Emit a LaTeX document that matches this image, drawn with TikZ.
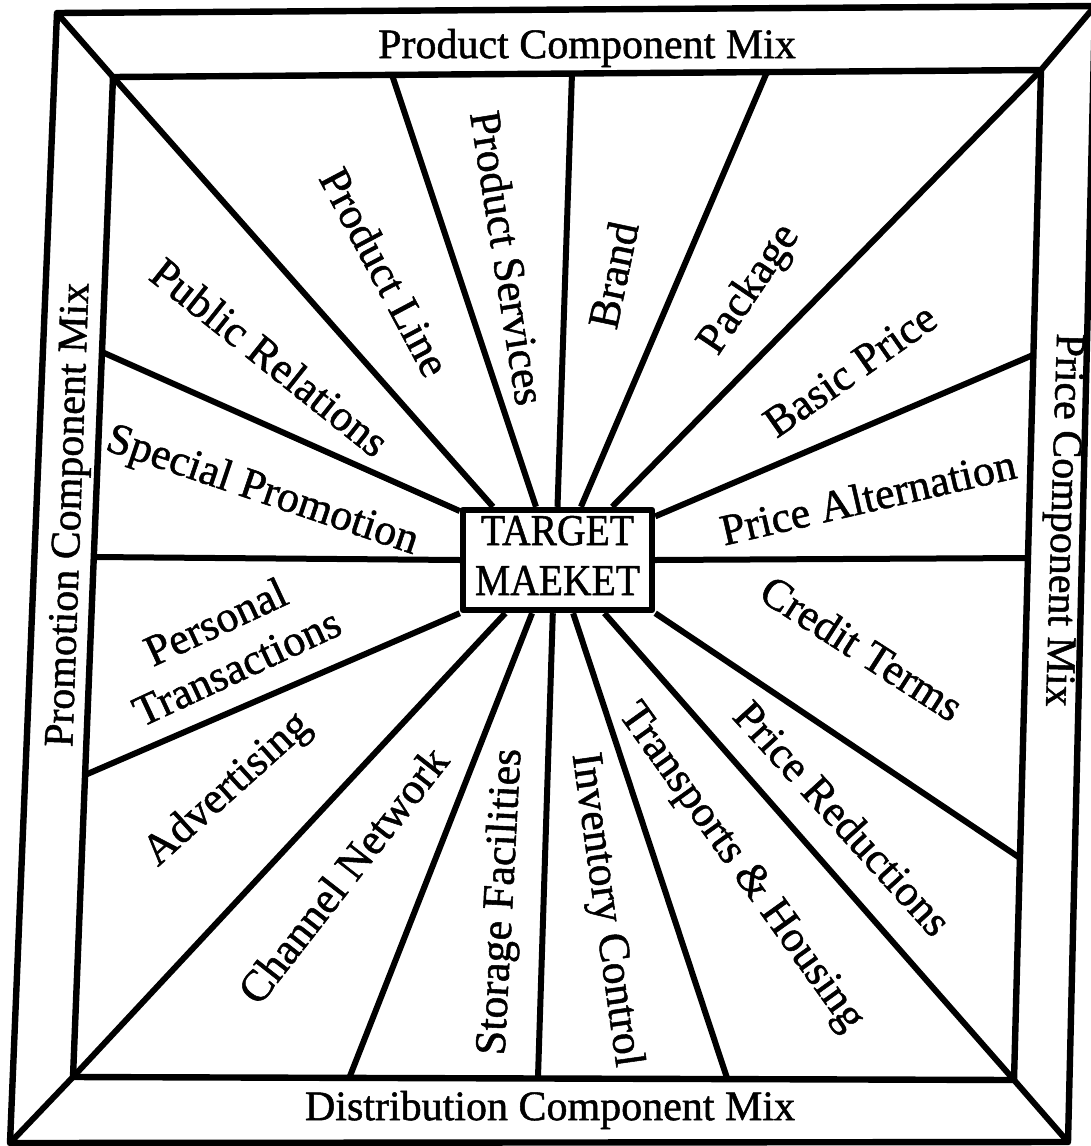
\documentclass[tikz,border=0pt]{standalone}
\usepackage{fontspec}
\setmainfont{Liberation Serif}[FakeBold=1.2]
\usetikzlibrary{calc}
\begin{document}
\begin{tikzpicture}[x=0.5pt,y=-0.5pt,line join=round,
  frameline/.style={line width=3.2pt},
  ray/.style={line width=3pt},
  lbl/.style={font=\fontsize{22}{25}\selectfont,inner sep=0pt,align=center},
  ttl/.style={font=\fontsize{21}{24}\selectfont,inner sep=0pt},
  tbox/.style={draw,line width=3.2pt,fill=white,minimum width=94.5pt,minimum height=45pt,inner sep=0pt,font=\fontsize{22}{25}\selectfont}]
\useasboundingbox (0,0) rectangle (1091,1146);
% outer frame corners
\coordinate (O1) at (57,13);
\coordinate (O2) at (1095,6);
\coordinate (O3) at (1068,1142);
\coordinate (O4) at (10,1143);
% inner frame corners
\coordinate (I1) at (113,77);
\coordinate (I2) at (1041,70);
\coordinate (I3) at (1014,1080);
\coordinate (I4) at (73,1077);
% ray ends on the inner frame
\coordinate (T1) at (392,75);
\coordinate (T2) at (572,73);
\coordinate (T3) at (767,72);
\coordinate (R1) at (1033,355);
\coordinate (R2) at (1028,558);
\coordinate (R3) at (1020,858);
\coordinate (B1) at (350,1076);
\coordinate (B2) at (538,1077);
\coordinate (B3) at (727,1078);
\coordinate (L1) at (102,352);
\coordinate (L2) at (94,557);
\coordinate (L3) at (85,775);
% frames
\draw[frameline] (O1)--(O2)--(O3)--(O4)--cycle;
\draw[frameline] (I1)--(I2)--(I3)--(I4)--cycle;
% centre box
\node[tbox] (tm) at (557.5,560) {\scalebox{0.9}[1]{\begin{tabular}{@{}c@{}}TARGET\\MAEKET\end{tabular}}};
% rays: top
\draw[ray] (O1) -- (I1) -- ($(tm.north west)!0.17!(tm.north east)$);
\draw[ray] (T1) -- ($(tm.north west)!0.39!(tm.north east)$);
\draw[ray] (T2) -- ($(tm.north west)!0.50!(tm.north east)$);
\draw[ray] (T3) -- ($(tm.north west)!0.62!(tm.north east)$);
\draw[ray] (O2) -- (I2) -- ($(tm.north west)!0.78!(tm.north east)$);
% rays: right
\draw[ray] (R1) -- ($(tm.north east)!0.09!(tm.south east)$);
\draw[ray] (R2) -- ($(tm.north east)!0.50!(tm.south east)$);
\draw[ray] (R3) -- (tm.south east);
% rays: bottom
\draw[ray] (O3) -- (I3) -- ($(tm.south west)!0.74!(tm.south east)$);
\draw[ray] (B3) -- ($(tm.south west)!0.58!(tm.south east)$);
\draw[ray] (B2) -- ($(tm.south west)!0.476!(tm.south east)$);
\draw[ray] (B1) -- ($(tm.south west)!0.37!(tm.south east)$);
\draw[ray] (O4) -- (I4) -- ($(tm.south west)!0.233!(tm.south east)$);
% rays: left
\draw[ray] (L1) -- ($(tm.north west)!0.04!(tm.south west)$);
\draw[ray] (L2) -- ($(tm.north west)!0.50!(tm.south west)$);
\draw[ray] (L3) -- (tm.south west);
% titles
\node[ttl] (ttop) at (587,48) {Product Component Mix};
\node[ttl] (tbot) at (550,1110) {Distribution Component Mix};
\node[ttl,rotate=88] (tleft) at (71,515) {Promotion Component Mix};
\node[ttl,rotate=-91.7] (tright) at (1061,520) {Price Component Mix};
% labels
\node[lbl,rotate=-62] (l1) at (385,272) {Product Line};
\node[lbl,rotate=-81] (l2) at (508,258) {Product Services};
\node[lbl,rotate=78] (l3) at (613,275) {Brand};
\node[lbl,rotate=56] (l4) at (750,290) {Package};
\node[lbl,rotate=35] (l5) at (850,370) {Basic Price};
\node[lbl,rotate=13] (l6) at (868,497) {Price Alternation};
\node[lbl,rotate=-32.7] (l7) at (862,648) {Credit Terms};
\node[lbl,rotate=-47.7] (l8) at (843,818) {Price Reductions};
\node[lbl,rotate=-54.4] (l9) at (740,868) {Transports \& Housing};
\node[lbl,rotate=-82] (l10) at (605,910) {Inventory Control};
\node[lbl,rotate=87] (l11) at (502,902) {Storage Facilities};
\node[lbl,rotate=52] (l12) at (343,875) {Channel Network};
\node[lbl,rotate=42] (l13) at (228,790) {Advertising};
\node[lbl,rotate=25] (l14) at (226,644) {Personal\\Transactions};
\node[lbl,rotate=-18.7] (l15) at (262,492) {Special Promotion};
\node[lbl,rotate=-38.5] (l16) at (270,357) {Public Relations};
\end{tikzpicture}
\end{document}
